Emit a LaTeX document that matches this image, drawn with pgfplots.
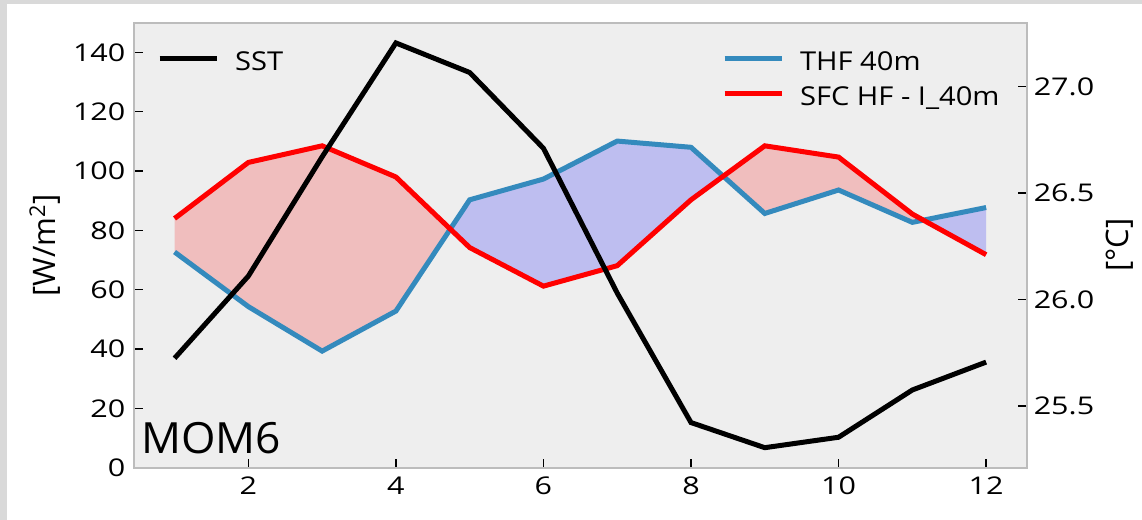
\documentclass[border=0pt]{standalone}
\usepackage{fontspec}
\setmainfont{Open Sans}
\newfontfamily\tickfont[FakeStretch=1.25]{Open Sans}
\newfontfamily\legfont[FakeStretch=1.12]{Open Sans}
\newfontfamily\momfont[FakeStretch=1.03]{Open Sans}
\usepackage{pgfplots}
\usepackage{pgfplotstable}
\pgfplotsset{compat=1.18}
\usepgfplotslibrary{fillbetween}
\definecolor{bggray}{HTML}{EEEEEE}
\definecolor{axgray}{HTML}{BCBCBC}
\definecolor{thfblue}{HTML}{348ABD}
\definecolor{framegray}{HTML}{D9D9D9}
\definecolor{bluefill}{RGB}{190,190,240}
\definecolor{redfill}{RGB}{240,190,190}

\pgfplotstableread{
m thf sfc sst
1 72.7 84.0 25.724
2 54.3 102.9 26.110
3 39.3 108.5 26.670
4 52.8 98.0 27.205
5 90.3 74.2 27.066
6 97.3 61.2 26.710
7 110.1 68.1 26.030
8 108.0 90.3 25.422
9 85.7 108.5 25.304
10 93.6 104.7 25.353
11 82.7 85.5 25.575
12 87.7 71.8 25.706
}\data

\pgfplotsset{
  common/.style={
    at={(67pt,26.15pt)}, anchor=south west, scale only axis,
    width=446.35pt, height=222.5pt,
    xmin=0.45, xmax=12.55,
    tick align=inside, major tick length=4.5pt,
    tick style={black, line width=0.8pt},
    axis line style={axgray, line width=0.9pt},
    tick label style={font=\tickfont\fontsize{12.2}{14}\selectfont},
    /pgf/number format/assume math mode=true,
    legend cell align=left,
    legend image code/.code={\draw[##1] (0pt,2.0pt) -- (28.5pt,2.0pt);},
    every axis y label/.style={rotate=90, anchor=center, font=\fontsize{15.5}{18}\selectfont},
  },
  legstyle/.style={draw=none, fill=none, inner sep=0pt, outer sep=0pt,
    column sep=8pt, row sep=7pt,
    nodes={inner sep=0pt, font=\legfont\fontsize{13}{15}\selectfont},
    anchor=north west},
}

\begin{document}
\begin{tikzpicture}
\fill[framegray] (0,258pt) rectangle (571pt,260pt);
\fill[framegray] (0,0) rectangle (3.5pt,260pt);

\begin{axis}[common,
  axis background/.style={fill=bggray},
  ymin=0, ymax=150,
  ytick={0,20,...,140}, xtick={2,4,...,12},
  xtick pos=left, ytick pos=left,
  yticklabel style={xshift=-0.8pt},
  xticklabel style={yshift=-1.2pt},
  ylabel={[W/m\textsuperscript{2}]},
  every axis y label/.append style={at={(axis description cs:-0.0997,0.5)}},
  legend style={legstyle, at={(rel axis cs:0.6587,0.936)}},
]
\addplot[thfblue, line width=2.5pt, name path=thf] table[x=m, y=thf] {\data};
\addplot[red, line width=2.5pt, name path=sfc] table[x=m, y=sfc] {\data};
\addplot fill between[of=thf and sfc, split,
  every segment no 0/.style={fill=redfill},
  every segment no 1/.style={fill=bluefill},
  every segment no 2/.style={fill=redfill},
  every segment no 3/.style={fill=bluefill}];
\legend{THF 40m, SFC HF - I\_40m}
\node[anchor=base west, inner sep=0pt, font=\momfont\fontsize{21.5}{24}\selectfont] at (rel axis cs:0.0078,0.033) {MOM6};
\end{axis}

\begin{axis}[common,
  axis x line=none, axis y line*=right,
  ymin=25.21, ymax=27.30,
  ytick={25.5,26,26.5,27},
  yticklabel style={/pgf/number format/.cd, fixed, fixed zerofill, precision=1},
  ylabel={[\textdegree C]},
  every axis y label/.append style={at={(axis description cs:1.1045,0.5)}},
  legend style={legstyle, at={(rel axis cs:0.0258,0.936)}},
]
\addplot[black, line width=2.5pt] table[x=m, y=sst] {\data};
\legend{SST}
\end{axis}
\pgfresetboundingbox
\path[use as bounding box] (0,0) rectangle (571pt,260pt);
\end{tikzpicture}
\end{document}
